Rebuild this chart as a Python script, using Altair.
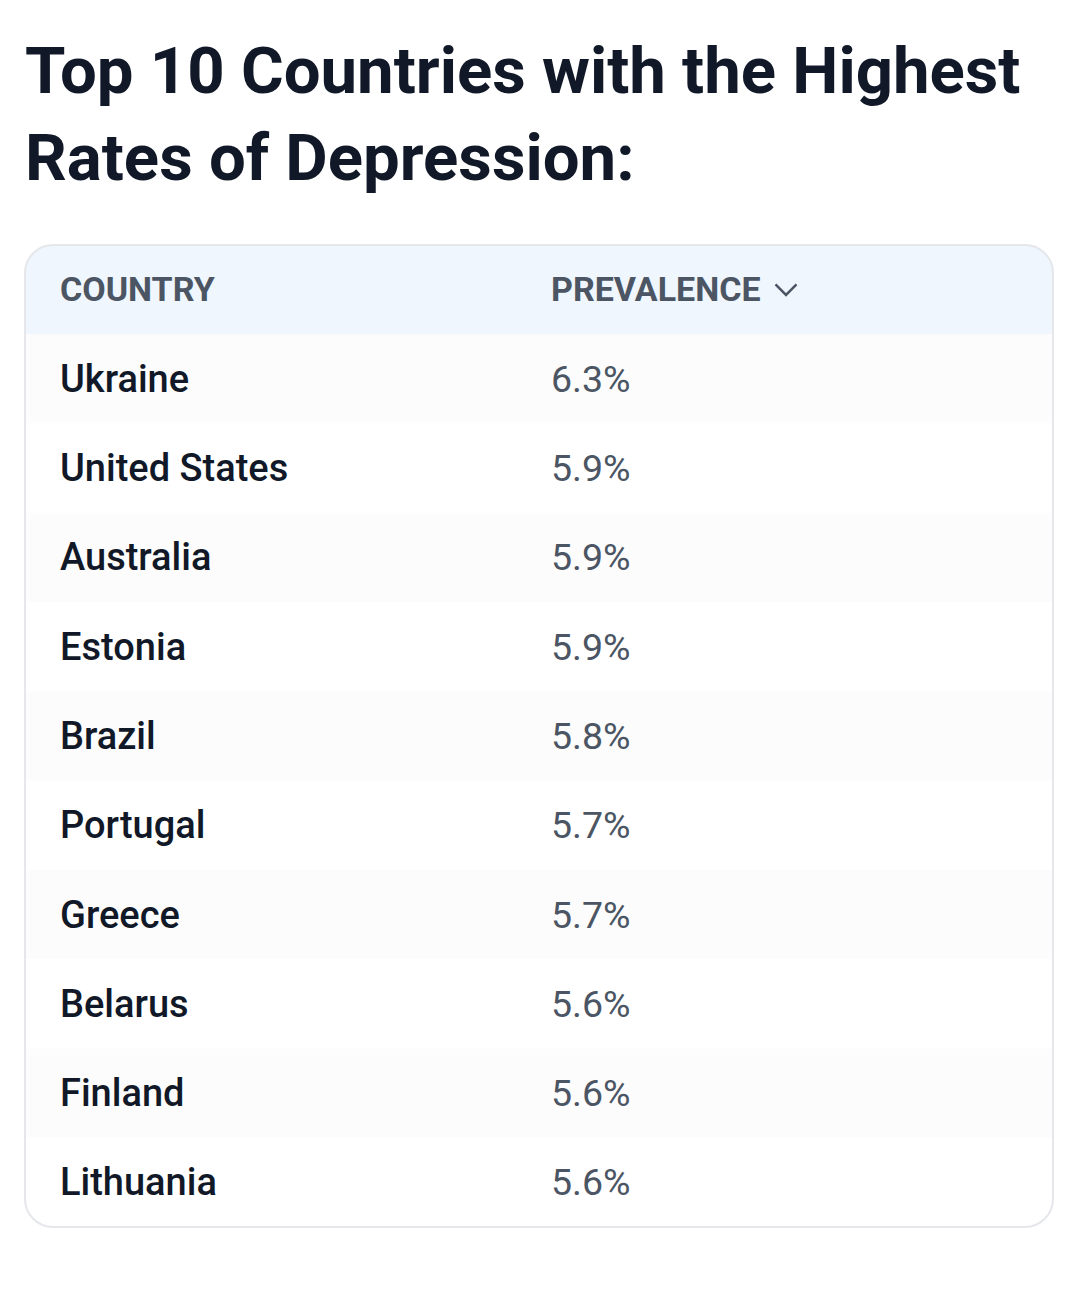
import altair as alt
import pandas as pd

# ---- data ----
title_lines = ["Top 10 Countries with the Highest", "Rates of Depression:"]
headers = ["COUNTRY", "PREVALENCE"]
countries = ["Ukraine", "United States", "Australia", "Estonia", "Brazil",
             "Portugal", "Greece", "Belarus", "Finland", "Lithuania"]
prevalence = [6.3, 5.9, 5.9, 5.9, 5.8, 5.7, 5.7, 5.6, 5.6, 5.6]

HDR = "__header__"
W, H = 1028, 982
FONT = "Roboto"

rows = pd.DataFrame({"Country": countries, "Prevalence": prevalence})
rows["Label"] = rows["Prevalence"].map(lambda v: f"{v:.1f}%")
rows["Shade"] = ["a" if i % 2 == 0 else "b" for i in range(len(rows))]
hdr = pd.DataFrame({"Country": [HDR]})

yscale = alt.Scale(domain=[HDR] + countries, range=[0, H],
                   paddingInner=0, paddingOuter=0)
Y = alt.Y("Country:N", scale=yscale, axis=None)

row_bg = alt.Chart(rows).mark_rect().encode(
    y=Y, x=alt.value(1), x2=alt.value(W - 1),
    color=alt.Color("Shade:N", scale=alt.Scale(domain=["a", "b"],
                    range=["#fcfcfc", "#ffffff"]), legend=None),
)

hdr_bg = alt.Chart(hdr).mark_rect(
    color="#eff6fd", cornerRadiusTopLeft=28, cornerRadiusTopRight=28
).encode(y=Y, x=alt.value(0), x2=alt.value(W))

border = alt.Chart(hdr).mark_rect(
    fillOpacity=0, stroke="#e5e7eb", strokeWidth=2, cornerRadius=28
).encode(x=alt.value(0), x2=alt.value(W), y=alt.value(0), y2=alt.value(H))

hdr_text1 = alt.Chart(hdr).mark_text(
    align="left", baseline="middle", font=FONT, fontSize=34,
    fontWeight="bold", color="#4b5563", dy=1
).encode(y=Y, x=alt.value(35), text=alt.value(headers[0]))

hdr_text2 = alt.Chart(hdr).mark_text(
    align="left", baseline="middle", font=FONT, fontSize=34,
    fontWeight="bold", color="#4b5563", dy=1
).encode(y=Y, x=alt.value(526), text=alt.value(headers[1]))

chevron = alt.Chart(hdr).mark_point(
    shape="M-1,-0.5L0,0.5L1,-0.5", filled=False, stroke="#4b5563",
    strokeWidth=2.5, size=440, opacity=1
).encode(y=Y, x=alt.value(761))

country_text = alt.Chart(rows).mark_text(
    align="left", baseline="middle", font=FONT, fontSize=38,
    fontWeight=500, color="#111827", dy=2
).encode(y=Y, x=alt.value(35), text="Country:N")

value_text = alt.Chart(rows).mark_text(
    align="left", baseline="middle", font=FONT, fontSize=37.5,
    fontWeight="normal", color="#4b5563", dy=2
).encode(y=Y, x=alt.value(526), text="Label:N")

title = alt.Chart(hdr).mark_text(
    align="left", baseline="alphabetic", font=FONT, fontSize=65.3,
    fontWeight="bold", color="#111827", lineHeight=87
).encode(x=alt.value(0), y=alt.value(-152), text=alt.value(title_lines))

chart = alt.layer(
    row_bg, hdr_bg, border, hdr_text1, hdr_text2, chevron,
    country_text, value_text, title
).properties(
    width=W, height=H, autosize="none", background="#ffffff",
    padding={"left": 17, "top": 237, "right": 19, "bottom": 60},
).configure_view(strokeWidth=0, stroke="transparent")

chart.save("out.html", embed_options={"renderer": "svg", "actions": False})
